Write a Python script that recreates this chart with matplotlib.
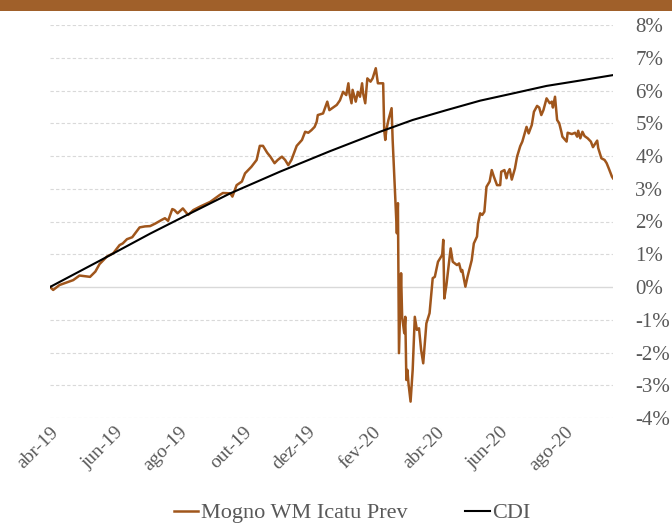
import matplotlib
matplotlib.use("Agg")
import matplotlib.pyplot as plt
from matplotlib.patches import Rectangle
import pandas as pd

plt.rcParams['font.family'] = ['Liberation Serif', 'DejaVu Serif']

fund_dates = [
    "2019-04-01", "2019-04-04", "2019-04-10", "2019-04-23", "2019-04-29", "2019-05-09", "2019-05-14",
    "2019-05-18", "2019-05-25", "2019-05-31", "2019-06-06", "2019-06-09", "2019-06-13", "2019-06-18",
    "2019-06-25", "2019-06-30", "2019-07-05", "2019-07-10", "2019-07-16", "2019-07-19", "2019-07-22",
    "2019-07-26", "2019-07-28", "2019-07-31", "2019-08-05", "2019-08-10", "2019-08-15", "2019-08-21",
    "2019-08-31", "2019-09-09", "2019-09-12", "2019-09-19", "2019-09-21", "2019-09-25", "2019-09-30",
    "2019-10-03", "2019-10-09", "2019-10-14", "2019-10-17", "2019-10-20", "2019-10-24", "2019-10-27",
    "2019-10-29", "2019-10-31", "2019-11-03", "2019-11-07", "2019-11-10", "2019-11-13", "2019-11-16",
    "2019-11-21", "2019-11-26", "2019-11-29", "2019-12-02", "2019-12-05", "2019-12-08", "2019-12-10",
    "2019-12-11", "2019-12-16", "2019-12-20", "2019-12-22", "2019-12-29", "2020-01-01", "2020-01-04",
    "2020-01-07", "2020-01-09", "2020-01-10", "2020-01-12", "2020-01-13", "2020-01-16", "2020-01-18",
    "2020-01-20", "2020-01-22", "2020-01-23", "2020-01-25", "2020-01-27", "2020-01-30", "2020-02-01",
    "2020-02-04", "2020-02-06", "2020-02-11", "2020-02-12", "2020-02-13", "2020-02-14", "2020-02-16",
    "2020-02-19", "2020-02-20", "2020-02-22", "2020-02-24", "2020-02-25", "2020-02-26", "2020-02-28",
    "2020-02-29", "2020-03-02", "2020-03-03", "2020-03-04", "2020-03-05", "2020-03-06", "2020-03-08",
    "2020-03-10", "2020-03-12", "2020-03-14", "2020-03-16", "2020-03-18", "2020-03-20", "2020-03-21",
    "2020-03-23", "2020-03-26", "2020-03-29", "2020-03-31", "2020-04-03", "2020-04-07", "2020-04-08",
    "2020-04-09", "2020-04-11", "2020-04-15", "2020-04-17", "2020-04-21", "2020-04-23", "2020-04-25",
    "2020-04-26", "2020-04-29", "2020-05-01", "2020-05-05", "2020-05-07", "2020-05-10", "2020-05-11",
    "2020-05-13", "2020-05-15", "2020-05-17", "2020-05-19", "2020-05-22", "2020-05-24", "2020-05-26",
    "2020-05-29", "2020-06-01", "2020-06-02", "2020-06-05", "2020-06-07", "2020-06-08", "2020-06-10",
    "2020-06-12", "2020-06-15", "2020-06-17", "2020-06-20", "2020-06-22", "2020-06-26", "2020-06-28",
    "2020-07-01", "2020-07-03", "2020-07-06", "2020-07-08", "2020-07-10", "2020-07-12", "2020-07-15",
    "2020-07-18", "2020-07-20", "2020-07-21", "2020-07-23", "2020-07-25", "2020-07-27", "2020-07-29",
    "2020-07-30", "2020-08-03", "2020-08-04", "2020-08-08", "2020-08-11", "2020-08-13", "2020-08-14",
    "2020-08-16", "2020-08-18", "2020-08-20", "2020-08-23", "2020-08-26", "2020-08-28", "2020-09-01",
    "2020-09-02", "2020-09-05", "2020-09-08", "2020-09-10", "2020-09-12", "2020-09-15", "2020-09-16",
]
fund_values = [
    0.00, -0.09, 0.06, 0.21, 0.35, 0.31, 0.47,
    0.70, 0.93, 1.03, 1.28, 1.33, 1.46, 1.52,
    1.82, 1.85, 1.86, 1.94, 2.05, 2.10, 2.02,
    2.38, 2.35, 2.25, 2.40, 2.20, 2.35, 2.45,
    2.60, 2.81, 2.87, 2.86, 2.76, 3.11, 3.22,
    3.47, 3.67, 3.88, 4.31, 4.31, 4.10, 3.98,
    3.88, 3.78, 3.88, 3.98, 3.88, 3.72, 3.88,
    4.31, 4.49, 4.74, 4.71, 4.79, 4.89, 5.05,
    5.25, 5.30, 5.66, 5.40, 5.56, 5.70, 5.96,
    5.86, 6.22, 5.91, 5.61, 6.02, 5.66, 5.96,
    5.81, 6.22, 5.91, 5.61, 6.37, 6.27, 6.37,
    6.68, 6.22, 6.22, 4.79, 4.49, 4.79, 5.10,
    5.46, 4.49, 3.06, 1.64, 2.56, -2.02, 0.42,
    -0.91, -1.41, -0.91, -2.84, -2.53, -2.94, -3.50,
    -2.53, -0.91, -1.31, -1.26, -1.92, -2.33, -1.92,
    -1.11, -0.80, 0.27, 0.31, 0.77, 0.98, 1.44,
    -0.35, 0.06, 1.18, 0.77, 0.67, 0.72, 0.47,
    0.52, 0.01, 0.31, 0.82, 1.33, 1.54, 1.94,
    2.25, 2.20, 2.30, 3.06, 3.22, 3.57, 3.37,
    3.11, 3.11, 3.52, 3.57, 3.32, 3.47, 3.60,
    3.28, 3.62, 3.98, 4.30, 4.44, 4.89, 4.69,
    4.95, 5.35, 5.53, 5.48, 5.25, 5.40, 5.76,
    5.61, 5.66, 5.48, 5.81, 5.10, 5.00, 4.74,
    4.59, 4.44, 4.71, 4.67, 4.71, 4.59, 4.77,
    4.54, 4.74, 4.61, 4.54, 4.44, 4.27, 4.47,
    4.24, 3.93, 3.88, 3.78, 3.62, 3.37, 3.32,
]

cdi_dates = ["2019-04-01", "2019-05-18", "2019-07-05", "2019-08-09", "2019-09-19", "2019-11-05",
             "2019-12-22", "2020-02-08", "2020-03-10", "2020-04-11", "2020-05-13", "2020-06-13",
             "2020-07-15", "2020-08-15", "2020-09-16"]
cdi_values = [0.00, 0.80, 1.63, 2.20, 2.86, 3.52, 4.14, 4.74, 5.10, 5.40, 5.69, 5.91, 6.14, 6.30, 6.47]

tick_dates = ["2019-04-01", "2019-06-01", "2019-08-01", "2019-10-01", "2019-12-01",
              "2020-02-01", "2020-04-01", "2020-06-01", "2020-08-01"]
tick_labels = ["abr-19", "jun-19", "ago-19", "out-19", "dez-19", "fev-20", "abr-20", "jun-20", "ago-20"]
y_ticks = list(range(-4, 9))
y_labels = [f"{v}%" for v in y_ticks]

series_names = ["Mogno WM Icatu Prev", "CDI"]

W, H = 672, 524
fig = plt.figure(figsize=(W / 100, H / 100), dpi=100)
fig.patches.append(Rectangle((0, 1 - 11 / H), 1, 11 / H, transform=fig.transFigure,
                             facecolor="#A0602A", edgecolor="none", zorder=0))

ax = fig.add_axes([50 / W, (H - 418) / H, (613 - 50) / W, (418 - 25) / H])

fd = pd.to_datetime(fund_dates)
cd = pd.to_datetime(cdi_dates)

for y in y_ticks:
    if y == 0:
        ax.axhline(y, color="#D9D9D9", lw=1.0, ls="-", zorder=1)
    else:
        ax.axhline(y, color="#D9D9D9", lw=0.8, ls=(0, (3, 2)), zorder=1)

ax.plot(fd, fund_values, color="#A0561C", lw=1.8, label=series_names[0], zorder=3, solid_joinstyle="round")
ax.plot(cd, cdi_values, color="#000000", lw=1.5, label=series_names[1], zorder=4)

ax.set_xlim(pd.Timestamp("2019-04-01"), pd.Timestamp("2020-09-16"))
ax.set_ylim(-4, 8)

for s in ax.spines.values():
    s.set_visible(False)

ax.yaxis.tick_right()
ax.set_yticks(y_ticks)
ax.set_yticklabels(y_labels)
ax.tick_params(axis="y", length=0, pad=16, labelsize=15, labelcolor="#595959")

ax.set_xticks(pd.to_datetime(tick_dates))
ax.set_xticklabels(tick_labels, rotation=45, ha="right", va="top", rotation_mode="anchor")
ax.tick_params(axis="x", length=0, pad=4, labelsize=14, labelcolor="#595959")

leg = fig.legend(loc="center", bbox_to_anchor=(352 / W, 11 / H), ncol=2, frameon=False,
                 fontsize=16, handlelength=1.1, handletextpad=0.1, columnspacing=2.6,
                 labelcolor="#595959")

fig.savefig("out.png", dpi=100)
